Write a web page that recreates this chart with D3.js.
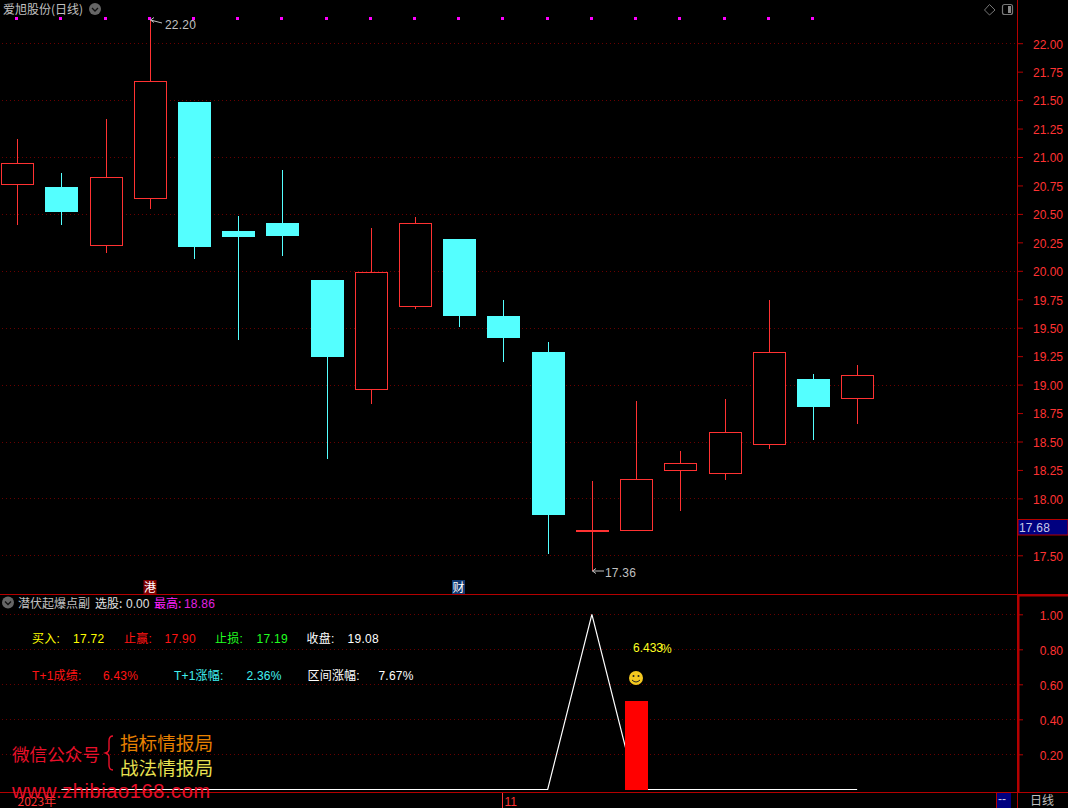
<!DOCTYPE html>
<html><head><meta charset="utf-8">
<script src="https://cdn.jsdelivr.net/npm/d3@7"></script>
<style>
html,body{margin:0;padding:0;background:#000;overflow:hidden}
svg{display:block}
text{font-family:"Liberation Sans","Noto Sans CJK SC",sans-serif;font-size:12px}
.cjk{font-family:"Noto Sans CJK SC",sans-serif}
</style></head><body>
<svg id="c" width="1068" height="808"></svg>
<script>
const opens  = [20.76,20.74,20.23,20.64,21.48,20.35,20.42,19.92,18.96,19.69,20.28,19.60,19.29,17.72,17.72,18.25,18.22,18.48,19.05,18.88];
const closes = [20.95,20.52,20.82,21.67,20.21,20.30,20.31,19.24,19.99,20.42,19.60,19.41,17.85,17.72,18.17,18.31,18.58,19.29,18.80,19.08];
const highs  = [21.16,20.86,21.33,22.20,21.48,20.48,20.89,19.92,20.38,20.47,20.28,19.74,19.37,18.15,18.86,18.42,18.87,19.74,19.09,19.17];
const lows   = [20.40,20.40,20.16,20.54,20.10,19.39,20.13,18.35,18.83,19.66,19.51,19.20,17.51,17.36,17.72,17.89,18.16,18.43,18.51,18.65];
const bearish= [0,1,0,0,1,1,1,1,0,0,1,1,1,0,0,0,0,0,1,0];
const signalDots = [1,1,1,1,1,1,1,1,1,1,1,1,1,1,1,1,1,1,1,0];
const indicatorLine = [null,0,0,0,0,0,0,0,0,0,0,0,0,1,0,0,0,0,0,0];
const barValues = [0,0,0,0,0,0,0,0,0,0,0,0,0,0,0.5,0,0,0,0,0];
const priceTicks = [17.5,18,18.25,18.5,18.75,19,19.25,19.5,19.75,20,20.25,20.5,20.75,21,21.25,21.5,21.75,22];
const priceGrid = [17.5,18,18.5,19,19.5,20,20.5,21,21.5,22];
const lowerTicks = [0.2,0.4,0.6,0.8,1.0];
const latestPrice = 17.68;
const row1 = [["买入:",32,"#ffff00"],["17.72",73,"#ffff00"],["止赢:",124,"#ff1414"],["17.90",164.5,"#ff1414"],["止损:",215,"#20ff20"],["17.19",256.5,"#20ff20"],["收盘:",306.5,"#ffffff"],["19.08",347.5,"#ffffff"]];
const row2 = [["T+1成绩:",32,"#ff1414"],["6.43%",103,"#ff1414"],["T+1涨幅:",174,"#40f0f0"],["2.36%",246.5,"#40f0f0"],["区间涨幅:",307.5,"#ffffff"],["7.67%",378.5,"#ffffff"]];

const RED="#ff3232", CY="#54ffff", FRAME="#b40000", GRID="#680000", GREY="#c0c0c0";
const svg=d3.select("#c");
svg.append("rect").attr("width",1068).attr("height",808).attr("fill","#000");
const x=d3.scaleLinear().domain([0,19]).range([17.15,857.14]);
const y=d3.scaleLinear().domain([17.5,22]).range([555.3,43.2]);
const y2=d3.scaleLinear().domain([0,1]).range([789.3,614.3]);
const snap=v=>Math.round(v)+0.5;
function txt(s,px,py,col,o={}){
  const t=svg.append("text").attr("x",px).attr("y",py).attr("fill",col).text(s);
  if(o.size)t.style("font-size",o.size+"px");
  if(o.anchor)t.attr("text-anchor",o.anchor);
  if(o.ls)t.style("letter-spacing",o.ls+"px");
  if(o.weight)t.style("font-weight",o.weight);
  if(o.cjk)t.attr("class","cjk");
  return t;
}
// grid
const gridLine=(vals,sc)=>svg.append("g").selectAll("line").data(vals).join("line")
  .attr("x1",2).attr("x2",1016).attr("y1",d=>snap(sc(d))).attr("y2",d=>snap(sc(d)))
  .attr("stroke",GRID).attr("stroke-dasharray","1 3");
gridLine(priceGrid,y); gridLine(lowerTicks,y2);

// candles
const idx=d3.range(opens.length);
const cg=svg.append("g");
cg.selectAll("line.w").data(idx).join("line").attr("class","w")
  .attr("x1",i=>snap(x(i))).attr("x2",i=>snap(x(i)))
  .attr("y1",i=>Math.round(y(highs[i]))).attr("y2",i=>Math.round(y(lows[i])))
  .attr("stroke",i=>bearish[i]?CY:RED);
cg.selectAll("rect").data(idx).join("rect")
  .attr("x",i=>bearish[i]?Math.round(x(i))-16:Math.round(x(i))-16+0.5)
  .attr("width",i=>bearish[i]?33:32)
  .attr("y",i=>{const t=Math.round(y(Math.max(opens[i],closes[i])));return bearish[i]?t:t+0.5;})
  .attr("height",i=>{const h=Math.round(y(Math.min(opens[i],closes[i])))-Math.round(y(Math.max(opens[i],closes[i])));return Math.max(h,1);})
  .attr("fill",i=>bearish[i]?CY:"#000")
  .attr("stroke",i=>bearish[i]?"none":RED);
// signal dots
svg.append("g").selectAll("rect").data(idx.filter(i=>signalDots[i])).join("rect")
  .attr("x",i=>Math.round(x(i))-2).attr("y",17).attr("width",3).attr("height",3).attr("fill","#ff00ff");

// high / low notes
function note(i,v,label,dy,dx,slope){
  const px=Math.round(x(i)), py=Math.round(y(v));
  svg.append("path").attr("d",`M${px+0.5} ${py}L${px+4} ${py-2.5}M${px+0.5} ${py}L${px+4} ${py+2.5}M${px+0.5} ${py}L${px+12} ${py+slope}`)
    .attr("stroke",GREY).attr("fill","none");
  txt(label,px+dx,py+dy,GREY,{ls:0.2});
}
note(3,highs[3],"22.20",9,15,3);
note(13,lows[13],"17.36",6,13,0);

// lower pane
const line=d3.line().defined(d=>d!==null).x((d,i)=>x(i)).y(d=>d===0?789.5:y2(d));
svg.append("path").datum(indicatorLine).attr("d",line).attr("fill","none").attr("stroke","#fff").attr("stroke-width",1.2);
svg.append("g").selectAll("rect").data(idx.filter(i=>barValues[i]>0)).join("rect")
  .attr("x",i=>Math.round(x(i))-11).attr("width",23)
  .attr("y",i=>Math.floor(y2(barValues[i]))).attr("height",i=>790-Math.floor(y2(barValues[i]))).attr("fill","#ff0000");

// frame
const fr=(a,b,c,d,w=1)=>svg.append("line").attr("x1",a).attr("y1",b).attr("x2",c).attr("y2",d).attr("stroke",FRAME).attr("stroke-width",w);
fr(0,594.5,1068,594.5); fr(1017.5,0,1017.5,808);
fr(1018,595.5,1068,595.5,2); fr(1018.5,595,1018.5,792,2);
fr(0,792.5,1068,792.5); 

// axes
const axR=(sc,vals,fmt)=>d3.axisRight(sc).tickValues(vals).tickSize(5).tickPadding(0).tickFormat(fmt);
function drawAxis(sc,vals){
  const g=svg.append("g").attr("transform","translate(1018,0)").call(axR(sc,vals,d3.format(".2f")));
  g.select(".domain").remove();
  g.selectAll(".tick line").attr("stroke",FRAME);
  g.selectAll(".tick text").attr("x",45).attr("dy","0.4em").attr("text-anchor","end").attr("fill",RED)
    .style("font-size","12px").style("font-family","'Liberation Sans'");
}
drawAxis(y,priceTicks); drawAxis(y2,lowerTicks);

// latest price tag
svg.append("rect").attr("x",1018).attr("y",519.5).attr("width",50).attr("height",15.5).attr("fill","#000080").attr("stroke",FRAME);
txt(d3.format(".2f")(latestPrice),1019,532,"#c8c8e8",{ls:0.2});

// top labels
txt("爱旭股份(日线)",3,14,GREY,{size:12,cjk:1});
function chev(cx,cy){
  svg.append("circle").attr("cx",cx).attr("cy",cy).attr("r",6).attr("fill","#666");
  svg.append("path").attr("d",`M${cx-3} ${cy-1}L${cx} ${cy+2}L${cx+3} ${cy-1}`).attr("stroke","#111").attr("stroke-width",1.3).attr("fill","none");
}
chev(95,9); chev(8,602.5);
svg.append("path").attr("d","M989.5 4.5L995 10L989.5 15L984.5 10Z").attr("fill","none").attr("stroke","#777");
svg.append("rect").attr("x",1002.5).attr("y",4.5).attr("width",10).attr("height",10).attr("rx",2).attr("fill","none").attr("stroke","#777").attr("stroke-width",1.2);
svg.append("rect").attr("x",1008).attr("y",6).attr("width",3).attr("height",7).attr("fill","#888");

// event flags
svg.append("rect").attr("x",143.5).attr("y",580).attr("width",13).attr("height",14).attr("fill","#800000");
txt("港",144,591.5,"#fff",{cjk:1});
svg.append("rect").attr("x",452).attr("y",580).attr("width",13).attr("height",14).attr("fill","#103870");
txt("财",452.5,591.5,"#fff",{cjk:1});

// indicator header
txt("潜伏起爆点副",18,607.5,GREY,{cjk:1});
txt("选股:",95,607.5,"#e0e0e0",{cjk:1});
txt("0.00",126,607.5,"#e0e0e0");
txt("最高:",154,607.5,"#ff20ff",{cjk:1});
txt("18.86",184,607.5,"#e020e0",{ls:0.2});
row1.forEach(r=>txt(r[0],r[1],643,r[2],{ls:0.3}));
row2.forEach(r=>txt(r[0],r[1],679.5,r[2],{ls:0.2}));

// bar note and smiley
txt("6.433",633,652,"#ffff20");
txt("%",661,652.5,"#ffff20");
svg.append("circle").attr("cx",636).attr("cy",678).attr("r",7).attr("fill","#f4c820");
svg.append("circle").attr("cx",633.5).attr("cy",676).attr("r",1).attr("fill","#222");
svg.append("circle").attr("cx",638.5).attr("cy",676).attr("r",1).attr("fill","#222");
svg.append("path").attr("d","M632 680Q636 684 640 680").attr("stroke","#222").attr("fill","none");

// watermark
txt("微信公众号",12,761,"#e8102a",{size:17.6,cjk:1});
svg.append("path").attr("d","M113 736Q109 736 109 741L109 749Q109 752 105.5 753Q109 754 109 757L109 765Q109 770 113 770")
  .attr("fill","none").attr("stroke","#e8102a").attr("stroke-width",1.4);
txt("指标情报局",120,749.5,"#e88000",{size:18.6,cjk:1});
txt("战法情报局",120,774.5,"#e8e050",{size:18.6,cjk:1});

// bottom strip
txt("2023年",17.5,805.5,RED,{cjk:1,size:12});
txt("11",504.5,805.5,RED);
svg.append("line").attr("x1",502.5).attr("x2",502.5).attr("y1",793).attr("y2",808).attr("stroke",RED);
fr(996.5,792,996.5,808);
svg.append("rect").attr("x",997).attr("y",793).attr("width",14).attr("height",15).attr("fill","#000080");
txt("--",998,803,"#c8c8e8");
txt("日线",1030,805,GREY,{cjk:1});
txt("www.zhibiao168.com",12,798,"#e8102a",{size:20,ls:0.6});
</script></body></html>
